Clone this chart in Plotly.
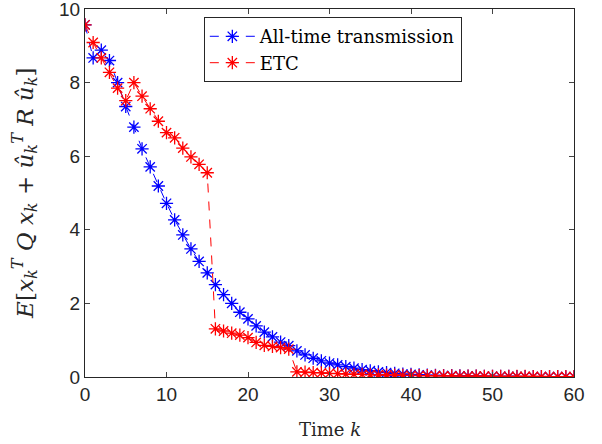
import plotly.graph_objects as go

k = list(range(61))
all_time = [9.57, 8.67, 8.88, 8.60, 8.00, 7.35, 6.79, 6.20, 5.71, 5.19,
            4.72, 4.27, 3.86, 3.48, 3.14, 2.83, 2.51, 2.24, 2.00, 1.76,
            1.58, 1.39, 1.22, 1.09, 0.95, 0.85, 0.71, 0.60, 0.51, 0.44,
            0.38, 0.33, 0.28, 0.24, 0.20, 0.17, 0.14, 0.12, 0.10, 0.08,
            0.07, 0.06, 0.05, 0.045, 0.04, 0.035, 0.03, 0.027, 0.024, 0.021,
            0.019, 0.017, 0.015, 0.013, 0.012, 0.011, 0.010, 0.009, 0.008, 0.007,
            0.006]
etc = [9.57, 9.09, 8.67, 8.28, 7.85, 7.51, 8.00, 7.63, 7.29, 6.95,
       6.64, 6.50, 6.22, 5.98, 5.78, 5.55, 1.31, 1.25, 1.19, 1.14,
       1.07, 0.94, 0.86, 0.83, 0.80, 0.76, 0.14, 0.13, 0.12, 0.11,
       0.10, 0.09, 0.08, 0.075, 0.07, 0.065, 0.06, 0.055, 0.05, 0.046,
       0.042, 0.039, 0.036, 0.033, 0.030, 0.028, 0.026, 0.024, 0.022, 0.020,
       0.019, 0.018, 0.017, 0.016, 0.015, 0.014, 0.013, 0.012, 0.011, 0.010,
       0.010]

x_ticks = [0, 10, 20, 30, 40, 50, 60]
y_ticks = [0, 2, 4, 6, 8, 10]

serif = "'DejaVu Serif', serif"
sans = "'Liberation Sans', Arial, sans-serif"
axis_col = "#262626"

fig = go.Figure()
fig.add_trace(go.Scatter(
    x=k, y=all_time, mode="lines+markers", name="All-time transmission",
    line=dict(color="#0000ff", width=1, dash="dash"),
    marker=dict(symbol="asterisk-open", size=11, color="#0000ff",
                line=dict(color="#0000ff", width=1.3)),
))
fig.add_trace(go.Scatter(
    x=k, y=etc, mode="lines+markers", name="ETC",
    line=dict(color="#ff0000", width=1, dash="dash"),
    marker=dict(symbol="asterisk-open", size=11, color="#ff0000",
                line=dict(color="#ff0000", width=1.3)),
))

fig.update_layout(
    width=602, height=444,
    margin=dict(l=85, r=28, t=9, b=67, autoexpand=False),
    paper_bgcolor="white", plot_bgcolor="white",
    showlegend=True,
    legend=dict(x=0.243, y=0.978, xanchor="left", yanchor="top",
                bgcolor="white", bordercolor=axis_col, borderwidth=1,
                font=dict(family=serif, size=18, color="black"),
                itemwidth=45, tracegroupgap=0),
    xaxis=dict(range=[0, 60], tickvals=x_ticks, ticks="inside", ticklen=5,
               showline=True, mirror="ticks", linecolor=axis_col, linewidth=1,
               showgrid=False, zeroline=False, automargin=False,
               ticklabeloverflow="allow",
               tickfont=dict(family=sans, size=19, color=axis_col)),
    yaxis=dict(range=[0, 10], tickvals=y_ticks, ticks="inside", ticklen=5,
               showline=True, mirror="ticks", linecolor=axis_col, linewidth=1,
               showgrid=False, zeroline=False, automargin=False,
               ticklabeloverflow="allow",
               tickfont=dict(family=sans, size=19, color=axis_col)),
    annotations=[
        dict(text="Time <i>k</i>", xref="paper", yref="paper",
             x=0.5, y=-0.143, xanchor="center", yanchor="middle", showarrow=False,
             font=dict(family=serif, size=18, color=axis_col)),
        dict(text="<i>E</i>[<i>x</i><sub><i>k</i></sub><sup><i>T</i></sup> <i>Q</i> <i>x</i><sub><i>k</i></sub> + <i>û</i><sub><i>k</i></sub><sup><i>T</i></sup> <i>R</i> <i>û</i><sub><i>k</i></sub>]",
             xref="paper", yref="paper", x=-0.125, y=0.5, xanchor="center", yanchor="middle",
             textangle=-90, showarrow=False,
             font=dict(family=serif, size=23, color=axis_col)),
    ],
)

fig.write_html("out.html", config={"displayModeBar": False},
               post_script="document.body.style.margin='0';")
